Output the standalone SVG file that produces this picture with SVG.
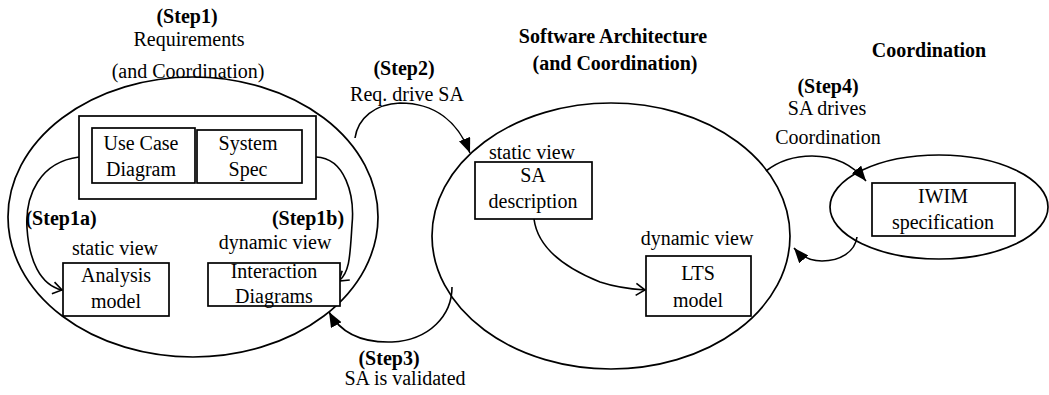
<svg xmlns="http://www.w3.org/2000/svg" width="1049" height="395" viewBox="0 0 1049 395">
  <defs>
    <style>
      text { font-family: 'Liberation Serif', 'Times New Roman', Times, serif; font-size: 20px; fill: #000; text-anchor: middle; }
      .b { font-weight: bold; }
      .shape { fill: none; stroke: #000; stroke-width: 1.7; }
      .box { fill: #fff; stroke: #000; stroke-width: 1.7; }
      .conn { fill: none; stroke: #000; stroke-width: 1.6; }
      .solid { marker-end: url(#solidHead); }
      .open { marker-end: url(#openHead); }
    </style>
    <marker id="solidHead" markerUnits="userSpaceOnUse" markerWidth="16" markerHeight="12" refX="15" refY="6" orient="auto">
      <path d="M0,0 L15,6 L0,12 Z" fill="#000"/>
    </marker>
    <marker id="openHead" markerUnits="userSpaceOnUse" markerWidth="12" markerHeight="14" refX="10" refY="7" orient="auto">
      <path d="M1,1 L10,7 L1,13" fill="none" stroke="#000" stroke-width="1.6"/>
    </marker>
  </defs>

  <g font-family="Liberation Serif, Times New Roman, serif">
  <!-- region outlines -->
  <g id="region-requirements">
    <ellipse class="shape" cx="193" cy="217" rx="185" ry="140"/>
    <text class="b" x="187" y="23">(Step1)</text>
    <text x="189" y="46">Requirements</text>
    <text x="188" y="78">(and Coordination)</text>
  </g>
  <g id="region-architecture">
    <ellipse class="shape" cx="611" cy="236" rx="179" ry="133"/>
    <text class="b" x="613" y="43">Software Architecture</text>
    <text class="b" x="615" y="70">(and Coordination)</text>
  </g>
  <g id="region-coordination">
    <ellipse class="shape" cx="939" cy="207" rx="109" ry="52"/>
    <text class="b" x="929" y="57">Coordination</text>
  </g>

  <!-- connectors -->
  <g id="connectors">
    <path class="conn open" d="M79,157 C40,162 25,195 27,228 C29,260 40,285 62,290"/>
    <path class="conn open" d="M316,157 C345,158 355,195 352,225 C350,255 350,272 339,281"/>
    <path class="conn solid" d="M355,138 C358,118 375,104 400,103 C435,103 458,122 470,153"/>
    <path class="conn open" d="M534,219 C538,250 570,270 600,282 C615,287 630,289 645,290"/>
    <path class="conn solid" d="M452,287 C452,315 430,340 392,342 C360,343 340,332 329,312"/>
    <path class="conn solid" d="M766,171 C780,160 795,156 812,156 C835,156 853,165 866,181"/>
    <path class="conn solid" d="M857,237 C855,252 840,261 822,261 C808,261 800,255 794,248"/>
  </g>

  <!-- step labels -->
  <g id="label-step1a">
    <text class="b" x="61" y="225">(Step1a)</text>
    <text x="115" y="255">static view</text>
  </g>
  <g id="label-step1b">
    <text class="b" x="308" y="225">(Step1b)</text>
    <text x="275" y="249">dynamic view</text>
  </g>
  <g id="label-step2">
    <text class="b" x="404" y="75">(Step2)</text>
    <text x="407" y="101">Req. drive SA</text>
  </g>
  <g id="label-step3">
    <text class="b" x="389" y="365">(Step3)</text>
    <text x="405" y="385">SA is validated</text>
  </g>
  <g id="label-step4">
    <text class="b" x="828" y="93">(Step4)</text>
    <text x="827" y="115">SA drives</text>
    <text x="828" y="144">Coordination</text>
  </g>

  <!-- nodes -->
  <g id="node-usecase-spec">
    <rect class="box" x="79" y="116" width="237" height="83"/>
  </g>
  <g id="node-usecase">
    <rect class="box" x="92" y="128" width="103" height="55"/>
    <text x="141" y="150">Use Case</text>
    <text x="141" y="176">Diagram</text>
  </g>
  <g id="node-systemspec">
    <rect class="box" x="197" y="130" width="105" height="53"/>
    <text x="248" y="150">System</text>
    <text x="248" y="176">Spec</text>
  </g>
  <g id="node-analysis">
    <rect class="box" x="63" y="263" width="106" height="53"/>
    <text x="116" y="282">Analysis</text>
    <text x="116" y="308">model</text>
  </g>
  <g id="node-interaction">
    <rect class="box" x="208" y="263" width="132" height="43"/>
    <text x="274" y="278">Interaction</text>
    <text x="274" y="303">Diagrams</text>
  </g>
  <g id="node-sa">
    <rect class="box" x="475" y="162" width="117" height="57"/>
    <text x="532" y="159">static view</text>
    <text x="533" y="182">SA</text>
    <text x="533" y="208">description</text>
  </g>
  <g id="node-lts">
    <rect class="box" x="646" y="256" width="105" height="60"/>
    <text x="697" y="245">dynamic view</text>
    <text x="698" y="280">LTS</text>
    <text x="698" y="307">model</text>
  </g>
  <g id="node-iwim">
    <rect class="box" x="872" y="183" width="143" height="53"/>
    <text x="943" y="203">IWIM</text>
    <text x="943" y="229">specification</text>
  </g>
  </g>
</svg>
